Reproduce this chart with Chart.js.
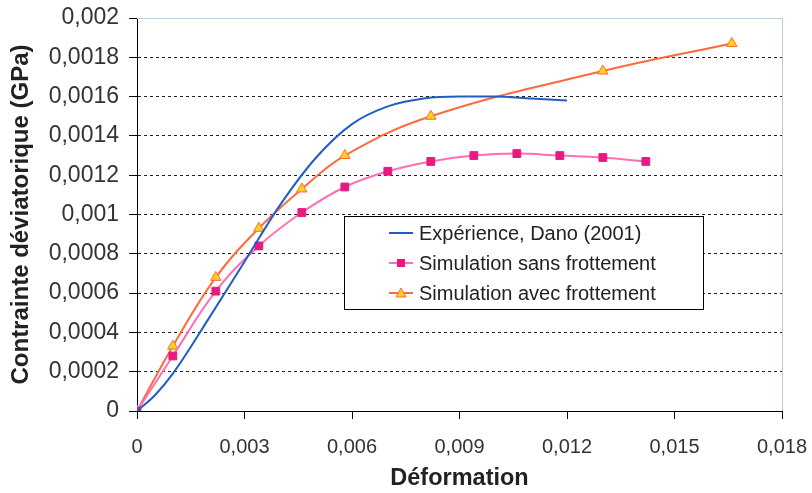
<!DOCTYPE html>
<html>
<head>
<meta charset="utf-8">
<script src="https://cdn.jsdelivr.net/npm/chart.js@4.4.1/dist/chart.umd.min.js"></script>
<style>
html,body{margin:0;padding:0;background:#fff;}
#wrap{width:812px;height:493px;position:relative;}
</style>
</head>
<body>
<div id="wrap"><canvas id="c" width="812" height="493"></canvas></div>
<script>
// ---- data ----
const seriesNames = ["Expérience, Dano (2001)", "Simulation sans frottement", "Simulation avec frottement"];

const expX = [0, 0.0005, 0.001, 0.002, 0.003, 0.004, 0.005, 0.006, 0.007, 0.008, 0.009, 0.010, 0.011, 0.012];
const expY = [0, 0.00008, 0.00019, 0.00047, 0.00076, 0.00105, 0.00129, 0.00146, 0.00155, 0.00159, 0.0016, 0.0016, 0.00159, 0.00158];

const sansX = [0, 0.001, 0.0022, 0.0034, 0.0046, 0.0058, 0.007, 0.0082, 0.0094, 0.0106, 0.0118, 0.013, 0.0142];
const sansY = [0, 0.00028, 0.00061, 0.00084, 0.00101, 0.00114, 0.00122, 0.00127, 0.0013, 0.00131, 0.0013, 0.00129, 0.00127];

const avecX = [0, 0.001, 0.0022, 0.0034, 0.0046, 0.0058, 0.0082, 0.013, 0.0166];
const avecY = [0, 0.00033, 0.00068, 0.00093, 0.00113, 0.0013, 0.0015, 0.00173, 0.00187];

const xTicks = [0, 0.003, 0.006, 0.009, 0.012, 0.015, 0.018];
const yTicks = [0, 0.0002, 0.0004, 0.0006, 0.0008, 0.001, 0.0012, 0.0014, 0.0016, 0.0018, 0.002];

const xTitle = "Déformation";
const yTitle = "Contrainte déviatorique (GPa)";

function pts(xs, ys){ return xs.map((x,i)=>({x:x, y:ys[i]})); }
function fmt(v, d){
  let s = v.toFixed(d);
  if (s.indexOf('.')>=0) s = s.replace(/0+$/,'').replace(/\.$/,'');
  return s.replace('.', ',');
}

const FONT = "'Liberation Sans', Arial, sans-serif";
const colors = {
  exp: '#1f5ec4',
  sansLine: '#ff6fb5',
  sansPt: '#e8197f',
  avecLine: '#ff6a3d',
  avecPt: '#ffd21a'
};

const legendPlugin = {
  id: 'boxLegend',
  afterDraw(chart){
    const ctx = chart.ctx, ca = chart.chartArea;
    ctx.save();
    ctx.strokeStyle = '#b7cbd8';
    ctx.lineWidth = 1;
    ctx.beginPath();
    ctx.moveTo(ca.left, ca.top + 0.5); ctx.lineTo(ca.right + 0.5, ca.top + 0.5);
    ctx.lineTo(ca.right + 0.5, ca.bottom);
    ctx.stroke();

    const L = 344, T = 216, W = 359, H = 93;
    ctx.fillStyle = '#fff';
    ctx.fillRect(L, T, W, H);
    ctx.strokeStyle = '#000';
    ctx.strokeRect(L + 0.5, T + 0.5, W, H);
    const rows = [T + 17, T + 47, T + 77];
    const x1 = L + 45, x2 = L + 69, xm = (x1 + x2) / 2;
    ctx.font = '20px ' + FONT;
    ctx.textBaseline = 'middle';
    ctx.lineWidth = 2;
    ctx.strokeStyle = colors.exp;
    ctx.beginPath(); ctx.moveTo(x1, rows[0]); ctx.lineTo(x2, rows[0]); ctx.stroke();
    ctx.strokeStyle = colors.sansLine;
    ctx.beginPath(); ctx.moveTo(x1, rows[1]); ctx.lineTo(x2, rows[1]); ctx.stroke();
    ctx.fillStyle = colors.sansPt;
    ctx.fillRect(xm - 4, rows[1] - 4, 8, 8);
    ctx.strokeStyle = colors.avecLine;
    ctx.beginPath(); ctx.moveTo(x1, rows[2]); ctx.lineTo(x2, rows[2]); ctx.stroke();
    ctx.fillStyle = colors.avecPt;
    ctx.strokeStyle = colors.avecLine;
    ctx.lineWidth = 1;
    ctx.beginPath();
    ctx.moveTo(xm, rows[2] - 5); ctx.lineTo(xm + 5, rows[2] + 4); ctx.lineTo(xm - 5, rows[2] + 4); ctx.closePath();
    ctx.fill(); ctx.stroke();
    ctx.fillStyle = '#222';
    seriesNames.forEach((n, i) => ctx.fillText(n, L + 75, rows[i] + 1));
    ctx.restore();
  }
};

new Chart(document.getElementById('c'), {
  type: 'line',
  data: {
    datasets: [
      {
        label: seriesNames[0], data: pts(expX, expY),
        borderColor: colors.exp, borderWidth: 2, pointRadius: 0,
        cubicInterpolationMode: 'monotone', fill: false
      },
      {
        label: seriesNames[1], data: pts(sansX, sansY),
        borderColor: colors.sansLine, borderWidth: 2, tension: 0.4,
        pointStyle: 'rect', pointRadius: 5.5, pointBackgroundColor: colors.sansPt,
        pointBorderColor: colors.sansPt, pointBorderWidth: 1, fill: false
      },
      {
        label: seriesNames[2], data: pts(avecX, avecY),
        borderColor: colors.avecLine, borderWidth: 2, tension: 0.4,
        pointStyle: 'triangle', pointRadius: 6, pointBackgroundColor: colors.avecPt,
        pointBorderColor: colors.avecLine, pointBorderWidth: 1, fill: false
      }
    ]
  },
  options: {
    responsive: false,
    animation: false,
    devicePixelRatio: 1,
    layout: { padding: { top: 18, right: 30, left: 0, bottom: 0 } },
    plugins: { legend: { display: false }, tooltip: { enabled: false } },
    scales: {
      x: {
        type: 'linear', min: 0, max: 0.018,
        afterBuildTicks(s){ s.ticks = xTicks.map(v => ({value: v})); },
        afterFit(s){ s.height = 82; s.paddingLeft = 0; s.paddingRight = 0; },
        ticks: {
          callback: v => fmt(v, 3),
          font: { family: FONT, size: 20 }, color: '#333', padding: 16, maxRotation: 0, autoSkip: false
        },
        grid: { drawOnChartArea: false, drawTicks: true, tickLength: 8, tickColor: '#000' },
        border: { display: true, color: '#000', width: 1 },
        title: { display: true, text: xTitle, font: { family: FONT, size: 23.5, weight: 'bold' }, color: '#222', padding: { top: 0, bottom: 0 } }
      },
      y: {
        type: 'linear', min: 0, max: 0.002,
        afterBuildTicks(s){ s.ticks = yTicks.map(v => ({value: v})); },
        afterFit(s){ s.width = 137; s.paddingTop = 0; s.paddingBottom = 0; },
        ticks: {
          callback: v => fmt(v, 4),
          font: { family: FONT, size: 23 }, color: '#333', padding: 10
        },
        grid: {
          color: c => (c.tick && (c.tick.value === 0 || c.tick.value === 0.002)) ? 'rgba(0,0,0,0)' : '#222',
          tickColor: '#000', tickLength: 8, drawTicks: true, lineWidth: 1
        },
        border: { display: true, color: '#000', width: 1, dash: [3, 3] },
        title: { display: true, text: yTitle, font: { family: FONT, size: 24, weight: 'bold' }, color: '#222', padding: { top: 7, bottom: 0 } }
      }
    }
  },
  plugins: [legendPlugin]
});
</script>
</body>
</html>
